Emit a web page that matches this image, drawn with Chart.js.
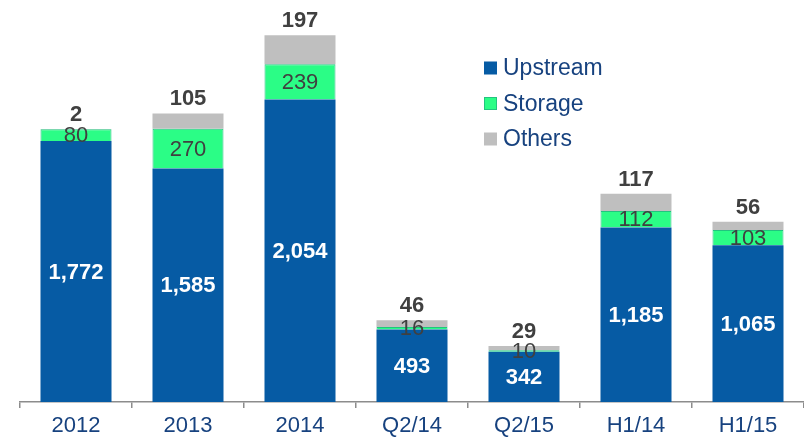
<!DOCTYPE html>
<html>
<head>
<meta charset="utf-8">
<script src="https://cdn.jsdelivr.net/npm/chart.js@4.4.1/dist/chart.umd.min.js"></script>
<style>
html,body{margin:0;padding:0;background:#fff;}
#wrap{width:804px;height:439px;position:relative;}
</style>
</head>
<body>
<div id="wrap"><canvas id="c" width="804" height="439"></canvas></div>
<script>
const categories = ['2012', '2013', '2014', 'Q2/14', 'Q2/15', 'H1/14', 'H1/15'];
const upstream = [1772, 1585, 2054, 493, 342, 1185, 1065];
const storage = [80, 270, 239, 16, 10, 112, 103];
const others = [2, 105, 197, 46, 29, 117, 56];
const seriesNames = ['Upstream', 'Storage', 'Others'];

const FONT = '"Liberation Sans", Arial, sans-serif';
const NAVY = '#17427F';
const DARK = '#404040';

const fmt = v => v.toLocaleString('en-US');

const labelPlugin = {
  id: 'valueLabels',
  afterDatasetsDraw(chart) {
    const ctx = chart.ctx;
    ctx.save();
    ctx.textAlign = 'center';
    chart.data.datasets.forEach((ds, i) => {
      const meta = chart.getDatasetMeta(i);
      meta.data.forEach((el, j) => {
        const v = ds.data[j];
        const p = el.getProps(['x', 'y', 'base'], true);
        if (i === 0) {
          ctx.font = 'bold 22px ' + FONT;
          ctx.fillStyle = '#FFFFFF';
          ctx.textBaseline = 'middle';
          ctx.fillText(fmt(v), p.x, (p.y + p.base) / 2 + 1);
        } else if (i === 1) {
          ctx.font = '22px ' + FONT;
          ctx.fillStyle = DARK;
          ctx.textBaseline = 'middle';
          ctx.fillText(fmt(v), p.x, (p.y + p.base) / 2 + 1);
        } else {
          ctx.font = 'bold 22px ' + FONT;
          ctx.fillStyle = DARK;
          ctx.textBaseline = 'alphabetic';
          ctx.fillText(fmt(v), p.x, p.y - 8);
        }
      });
    });
    ctx.restore();
  }
};

const legendPlugin = {
  id: 'sideLegend',
  afterDraw(chart, args, opts) {
    const ctx = chart.ctx;
    ctx.save();
    chart.data.datasets.forEach((ds, i) => {
      const cy = opts.y + i * opts.step;
      ctx.fillStyle = ds.backgroundColor;
      ctx.fillRect(opts.x, cy - 6.5, 13, 13);
      if (ds.borderWidth) {
        ctx.strokeStyle = ds.borderColor;
        ctx.lineWidth = 1;
        ctx.strokeRect(opts.x + 0.5, cy - 6, 12, 12);
      }
      ctx.font = '23px ' + FONT;
      ctx.fillStyle = NAVY;
      ctx.textBaseline = 'middle';
      ctx.textAlign = 'left';
      ctx.fillText(ds.label, opts.x + 19, cy + 1);
    });
    ctx.restore();
  }
};

new Chart(document.getElementById('c'), {
  type: 'bar',
  data: {
    labels: categories,
    datasets: [
      { label: seriesNames[0], data: upstream, backgroundColor: '#065BA4', borderWidth: 0 },
      { label: seriesNames[1], data: storage, backgroundColor: '#2BFD86', borderColor: '#22C47F', borderWidth: 1 },
      { label: seriesNames[2], data: others, backgroundColor: '#BFBFBF', borderWidth: 0 }
    ]
  },
  options: {
    responsive: false,
    animation: false,
    events: [],
    layout: { padding: { left: 20, right: 0, top: 0, bottom: 0 } },
    datasets: { bar: { categoryPercentage: 1, barPercentage: 0.634 } },
    plugins: {
      legend: { display: false },
      tooltip: { enabled: false },
      sideLegend: { x: 484, y: 68, step: 35.5 }
    },
    scales: {
      x: {
        stacked: true,
        grid: { display: true, drawOnChartArea: false, drawTicks: true, tickLength: 6, color: '#8C8C8C', lineWidth: 1.5, offset: true },
        border: { display: true, color: '#8C8C8C', width: 1.5 },
        ticks: { color: NAVY, font: { family: FONT, size: 22 }, padding: 5, maxRotation: 0, autoSkip: false },
        afterFit(scale) { scale.height = 37; }
      },
      y: {
        stacked: true,
        display: false,
        min: 0,
        max: 2730
      }
    }
  },
  plugins: [labelPlugin, legendPlugin]
});
</script>
</body>
</html>
